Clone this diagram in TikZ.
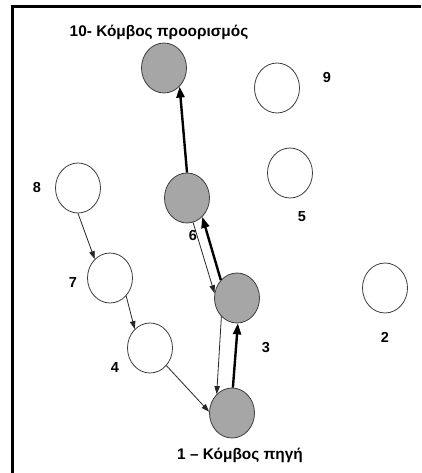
\documentclass[tikz,border=0pt]{standalone}
\usepackage{fontspec}
\setmainfont{Liberation Sans}
\usetikzlibrary{arrows.meta,shapes.geometric}
\definecolor{nodegray}{RGB}{166,166,166}
\definecolor{rimgray}{RGB}{60,60,60}
\begin{document}
\begin{tikzpicture}[x=1pt,y=-1pt,
  vertex/.style={ellipse,draw=rimgray,line width=0.8pt,minimum width=45pt,minimum height=50pt,inner sep=0pt},
  onpath/.style={vertex,fill=nodegray},
  offpath/.style={vertex,fill=white},
  numlabel/.style={font=\fontsize{14.5}{16}\selectfont\bfseries,inner sep=0pt},
  caption/.style={font=\fontsize{15.4}{18}\selectfont\bfseries,inner sep=0pt},
  thickarrow/.style={line width=2.4pt,-{Triangle[length=11pt,width=8pt]}},
  thinarrow/.style={line width=0.8pt,draw=black!85,-{Triangle[length=8pt,width=5.5pt]}}]
\useasboundingbox (0,0) rectangle (421,473);
\draw[line width=3pt] (421,6.5) -- (12.5,6.5) -- (12.5,473);
% nodes
\node[onpath]  (n10) at (164,68) {};
\node[offpath] (n9)  at (277,88) {};
\node[offpath] (n5)  at (290,173) {};
\node[offpath] (n8)  at (78,188) {};
\node[onpath]  (n6)  at (187,198) {};
\node[offpath] (n7)  at (110,278) {};
\node[onpath]  (n3)  at (237,298) {};
\node[offpath] (n2)  at (385,288) {};
\node[offpath] (n4)  at (150,348) {};
\node[onpath]  (n1)  at (232,413) {};
% labels
\node[caption] (t10) at (159,32) {10- Κόμβος προορισμός};
\node[caption] (t1) at (240,455) {1 – Κόμβος πηγή};
\node[numlabel] (l9) at (327,78) {9};
\node[numlabel] (l5) at (302,217) {5};
\node[numlabel] (l8) at (37,188) {8};
\node[numlabel] (l6) at (193,236) {6};
\node[numlabel] (l7) at (73,283) {7};
\node[numlabel] (l3) at (266,348) {3};
\node[numlabel] (l2) at (385,337) {2};
\node[numlabel] (l4) at (115,368) {4};
% thin arrows
\draw[thinarrow] (n8.270) -- (n7.129);
\draw[thinarrow] (n7.312) -- (n4.129);
\draw[thinarrow] (n4.313) -- (n1.177);
\draw[thinarrow] (n6.284) -- (n3.168);
\draw[thinarrow] (n3.230) -- (n1.129);
% thick arrows (path)
\draw[thickarrow] (n1.88) -- (n3.272);
\draw[thickarrow] (n3.132) -- (n6.309);
\draw[thickarrow] (n6.90) -- (n10.310);
\end{tikzpicture}
\end{document}
